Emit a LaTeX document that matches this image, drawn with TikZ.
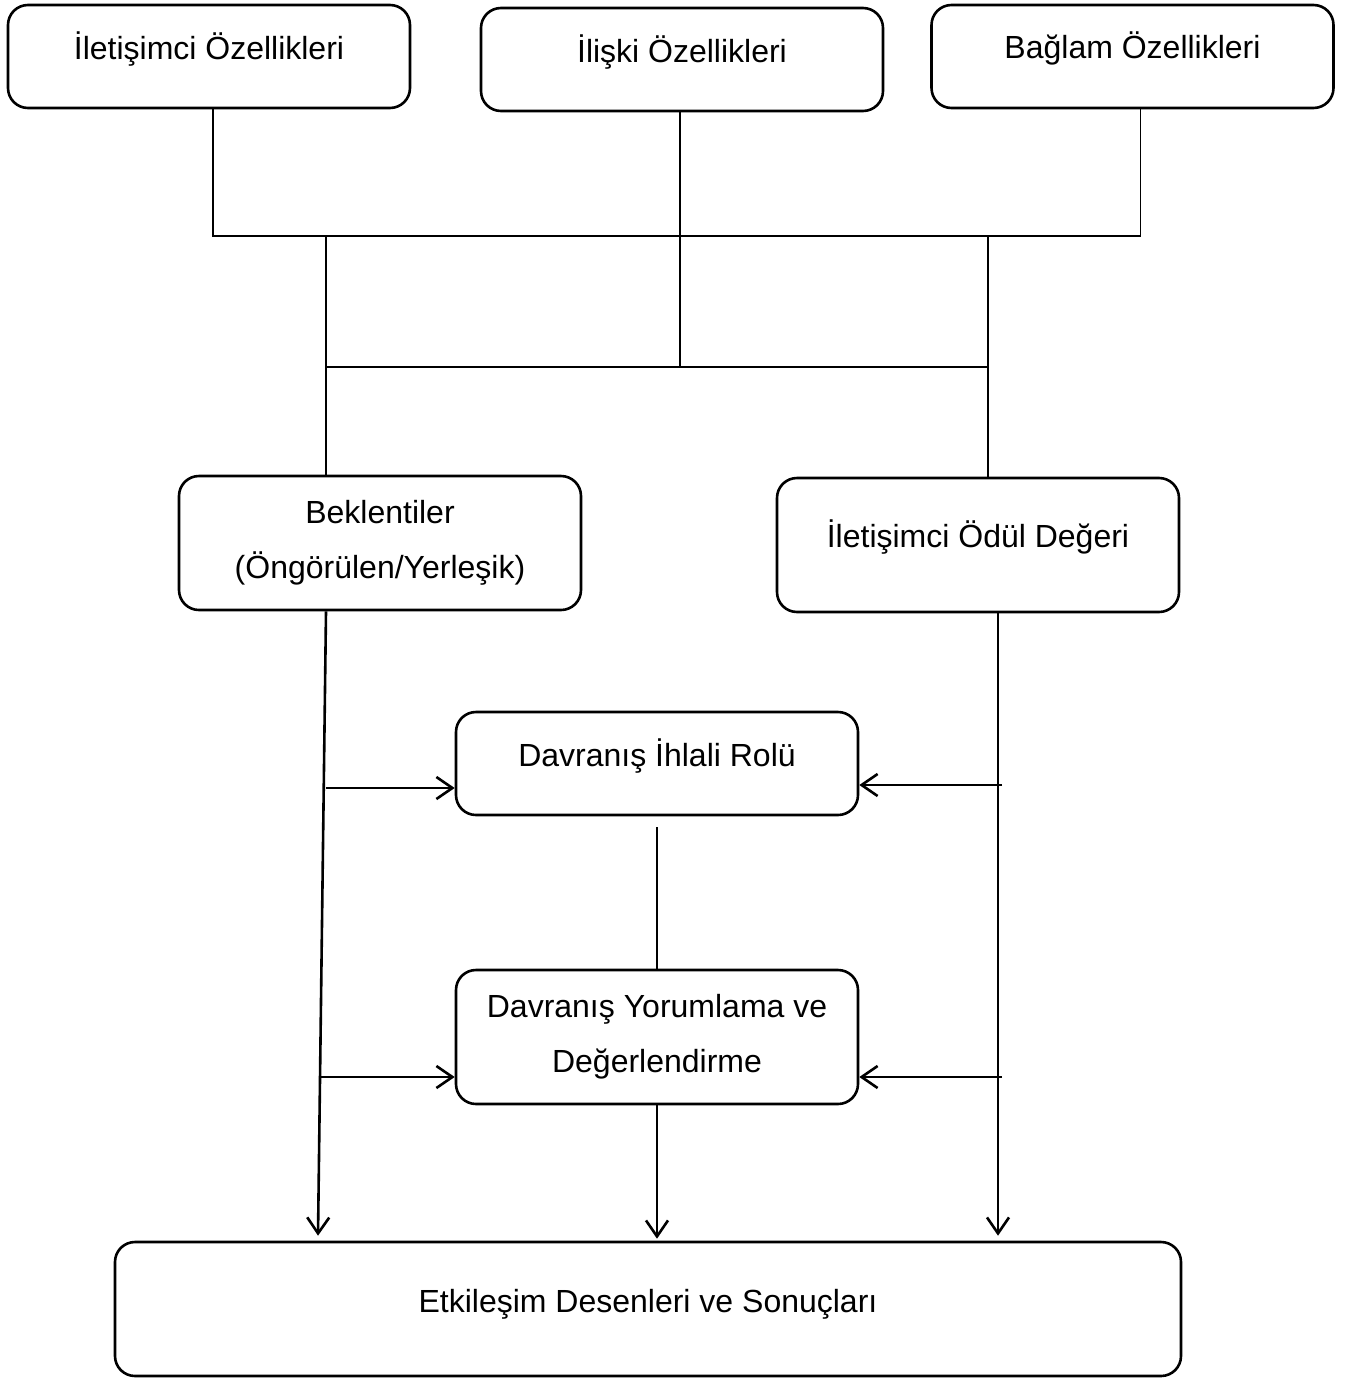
\documentclass[tikz,border=0pt]{standalone}
\usepackage{fontspec}
\setmainfont{Liberation Sans}
\usetikzlibrary{arrows.meta}

\tikzset{
  box/.style={draw,line width=2.6pt,rounded corners=20pt,align=center,inner sep=0pt,
    minimum width=402pt,font=\fontsize{32}{55}\selectfont},
  oneline/.style={text depth=22pt},
  feed/.style={line width=1.4pt},
  flow/.style={line width=2.6pt,-{Straight Barb[length=16pt,width=22pt]}}
}

\begin{document}
\begin{tikzpicture}[x=1pt,y=-1pt]
\useasboundingbox (0,0) rectangle (1352,1379);
% characteristics
\node[box,oneline,minimum height=103pt] (comm) at (209,56.5) {İletişimci Özellikleri};
\node[box,oneline,minimum height=103pt] (rel) at (682,59.5) {İlişki Özellikleri};
\node[box,oneline,minimum height=103pt] (ctx) at (1132.5,56.5) {Bağlam Özellikleri};
% expectancies and reward
\node[box,minimum height=134pt] (expect) at (380,543) {Beklentiler\\(Öngörülen/Yerleşik)};
\node[box,oneline,minimum height=134pt] (reward) at (978,545) {İletişimci Ödül Değeri};
% violation
\node[box,oneline,minimum height=103pt] (viol) at (657,763.5) {Davranış İhlali Rolü};
\node[box,minimum height=134pt] (interp) at (657,1037) {Davranış Yorumlama ve\\Değerlendirme};
\node[box,text depth=16pt,minimum width=1066pt,minimum height=134pt] (outc) at (648,1309) {Etkileşim Desenleri ve Sonuçları};

\coordinate (topbar) at (0,236);
\coordinate (midbar) at (0,367);
\coordinate (lfeed) at (326,0);
\coordinate (rfeed) at (988,0);
\coordinate (lout) at (318,0);
\coordinate (rout) at (998,0);

\draw[feed] ([xshift=4pt]comm.south) -- ([xshift=4pt]comm.south |- topbar) -- ([xshift=8pt]ctx.south |- topbar) -- ([xshift=8pt]ctx.south);
\draw[feed] ([xshift=-2pt]rel.south) -- ([xshift=-2pt]rel.south |- midbar);
\draw[feed] (lfeed |- topbar) -- (lfeed |- expect.north);
\draw[feed] (rfeed |- topbar) -- (rfeed |- reward.north);
\draw[feed] (lfeed |- midbar) -- (rfeed |- midbar);

\draw[flow] (lfeed |- expect.south) -- ([yshift=5pt]lout |- outc.north);
\draw[flow] (rout |- reward.south) -- ([yshift=5pt]rout |- outc.north);
\draw[flow] (326,788) -- (viol.west |- 0,788);
\draw[flow] (320,1077) -- (interp.west |- 0,1077);
\draw[flow] (1002,785) -- (viol.east |- 0,785);
\draw[flow] (1002,1077) -- (interp.east |- 0,1077);
\draw[feed] ([yshift=-11pt]viol.south) -- (interp.north);
\draw[flow] (interp.south) -- ([yshift=2pt]interp.south |- outc.north);
\end{tikzpicture}
\end{document}
